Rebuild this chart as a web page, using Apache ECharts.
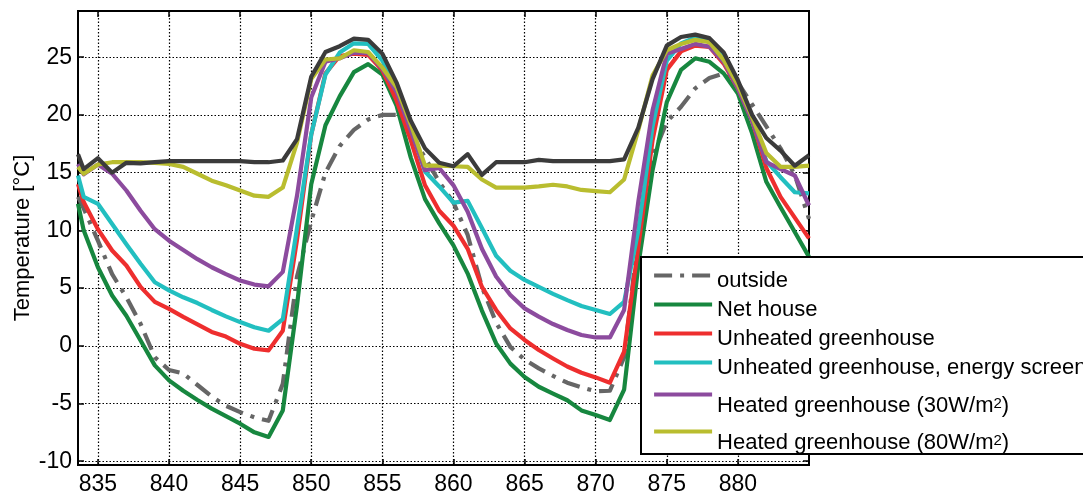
<!DOCTYPE html>
<html><head><meta charset="utf-8">
<script src="https://cdn.jsdelivr.net/npm/echarts@6/dist/echarts.min.js"></script>
<style>html,body{margin:0;padding:0;background:#fff}#c{width:1083px;height:497px}</style>
</head><body><div id="c"></div>
<script>
const hours = [833.6,834,835,836,837,838,839,840,841,842,843,844,845,846,847,848,849,850,851,852,853,854,855,856,857,858,859,860,861,862,863,864,865,866,867,868,869,870,871,872,873,874,875,876,877,878,879,880,881,882,883,884,885];
const outside = [12.9,11.9,9.1,6.2,4.2,1.9,-1.0,-2.1,-2.4,-3.4,-4.4,-5.2,-5.75,-6.2,-6.5,-3.3,6.0,10.8,15.0,17.3,18.7,19.6,20.0,20.0,18.4,16.3,14.2,12.4,9.6,5.1,2.0,-0.1,-1.2,-1.96,-2.6,-3.2,-3.6,-3.95,-3.9,-1.0,9.5,16.4,19.4,20.7,22.3,23.2,23.6,22.8,20.9,19.0,17.1,14.8,11.0];
const netHouse = [12.3,10.0,6.8,4.35,2.6,0.46,-1.7,-3.0,-3.9,-4.7,-5.45,-6.1,-6.75,-7.5,-7.9,-5.6,3.5,14.0,19.1,21.6,23.7,24.4,23.5,20.8,16.3,12.7,10.6,8.7,6.25,3.05,0.2,-1.55,-2.7,-3.55,-4.14,-4.72,-5.6,-6.0,-6.43,-3.8,7.0,15.2,21.1,23.9,24.9,24.6,23.6,21.85,18.4,14.2,12.0,9.85,7.7];
const unheated = [14.0,12.45,10.1,8.25,6.95,5.1,3.8,3.2,2.5,1.85,1.2,0.8,0.17,-0.26,-0.4,1.3,9.2,18.3,23.6,25.1,25.3,25.2,23.85,21.25,17.8,13.9,11.7,10.4,8.4,5.1,3.1,1.5,0.5,-0.37,-1.1,-1.8,-2.34,-2.74,-3.2,-0.5,8.6,17.8,23.9,25.5,26.0,25.9,24.45,22.3,19.5,15.4,12.9,11.1,9.3];
const unheatedScreen = [14.75,12.9,12.3,10.55,8.8,7.1,5.5,4.8,4.2,3.7,3.1,2.55,2.05,1.6,1.3,2.3,10.2,18.3,23.5,25.4,26.2,26.15,24.7,22.25,18.9,15.1,13.8,12.4,12.55,10.2,7.8,6.5,5.7,5.1,4.5,3.95,3.44,3.1,2.75,3.8,10.0,19.0,24.7,26.2,26.7,26.5,24.9,22.4,19.7,16.0,14.6,13.3,13.2];
const heated30 = [15.75,14.85,15.7,14.9,13.45,11.7,10.1,9.1,8.3,7.5,6.8,6.2,5.65,5.3,5.15,6.4,13.0,21.5,24.6,24.9,25.4,25.35,24.0,22.0,18.65,15.2,15.4,13.9,11.6,8.4,6.0,4.4,3.24,2.52,1.88,1.36,0.93,0.72,0.72,3.1,12.5,20.4,25.3,25.7,26.15,25.9,24.6,22.3,19.5,15.9,15.3,14.75,12.15];
const heated80 = [15.5,14.9,15.7,15.9,15.9,15.9,15.85,15.75,15.5,14.9,14.3,13.9,13.45,13.0,12.9,13.7,17.6,23.1,24.8,24.9,25.6,25.45,24.1,22.4,19.2,15.6,15.6,15.55,15.5,14.4,13.7,13.7,13.7,13.8,13.95,13.8,13.5,13.4,13.3,14.4,18.7,23.4,25.6,26.15,26.5,26.3,24.75,22.6,19.8,16.7,15.5,15.5,15.6];
const heatedBlack = [16.6,15.3,16.25,15.0,15.85,15.8,15.9,16.0,16.0,16.0,16.0,16.0,16.0,15.9,15.9,16.05,17.9,23.3,25.45,25.95,26.6,26.5,25.3,22.8,19.5,17.1,15.85,15.55,16.6,14.8,15.9,15.9,15.9,16.1,16.0,16.0,16.0,16.0,16.0,16.15,18.9,23.1,26.0,26.75,26.95,26.65,25.4,23.0,20.0,18.0,16.9,15.6,16.5];
const xTicks = [835,840,845,850,855,860,865,870,875,880];
const yTicks = [-10,-5,0,5,10,15,20,25];
const seriesNames = ['outside','Net house','Unheated greenhouse','Unheated greenhouse, energy screen','Heated greenhouse (30W/m2)','Heated greenhouse (80W/m2)','Heated greenhouse (black)'];
const legendNames = seriesNames.slice(0, 6);

const FONT = '"Liberation Sans", Arial, Helvetica, sans-serif';
const colors = ['#666666','#17873f','#ee2e2e','#22bfc0','#8c4b9e','#b9bd2f','#3b3b3b'];
const seriesData = [outside, netHouse, unheated, unheatedScreen, heated30, heated80, heatedBlack];

const chart = echarts.init(document.getElementById('c'), null, {renderer: 'canvas'});

const series = seriesData.map((arr, k) => ({
  name: seriesNames[k],
  type: 'line',
  data: hours.map((h, i) => [h, arr[i]]),
  symbol: 'none',
  showSymbol: false,
  clip: true,
  z: 2 + k * 0.01,
  lineStyle: {color: colors[k], width: 4.2, type: k === 0 ? [18, 8, 4, 8] : 'solid', cap: 'butt', join: 'round'},
  itemStyle: {color: colors[k]}
}));

const padPlain = [14, 0, 3, 0];
const legendData = legendNames.map((n, k) => ({
  name: n,
  textStyle: {padding: k === 4 ? [23, 0, 0, 0] : (k === 5 ? [24, 0, 1, 0] : padPlain)}
}));

const axisCommonX = {type: 'value', min: 833.6, max: 885};
const axisCommonY = {type: 'value', min: -10.33, max: 29};
const gridLine = {show: true, lineStyle: {color: '#000', width: 1.2, type: [1.5, 2]}};

chart.setOption({
  animation: false,
  backgroundColor: '#fff',
  grid: {left: 78, right: 274, top: 11, bottom: 32, show: true, borderColor: '#000', borderWidth: 2, backgroundColor: 'transparent'},
  xAxis: [
    Object.assign({}, axisCommonX, {
      position: 'bottom',
      axisLine: {show: true, onZero: false, lineStyle: {color: '#000', width: 2}},
      axisTick: {show: true, inside: true, length: 6, customValues: xTicks, lineStyle: {color: '#000', width: 1.5}},
      axisLabel: {show: true, customValues: xTicks, color: '#000', fontSize: 23, fontFamily: FONT, margin: 8},
      splitLine: gridLine
    }),
    Object.assign({}, axisCommonX, {
      position: 'top',
      axisLine: {show: true, onZero: false, lineStyle: {color: '#000', width: 2}},
      axisTick: {show: true, inside: true, length: 6, customValues: xTicks, lineStyle: {color: '#000', width: 1.5}},
      axisLabel: {show: false},
      splitLine: {show: false}
    })
  ],
  yAxis: [
    Object.assign({}, axisCommonY, {
      position: 'left',
      name: 'Temperature [°C]',
      nameLocation: 'middle',
      nameGap: 44,
      nameMoveOverlap: false,
      nameTextStyle: {color: '#000', fontSize: 22, fontFamily: FONT},
      axisLine: {show: true, onZero: false, lineStyle: {color: '#000', width: 2}},
      axisTick: {show: true, inside: true, length: 6, customValues: yTicks, lineStyle: {color: '#000', width: 1.5}},
      axisLabel: {show: true, customValues: yTicks, color: '#000', fontSize: 23, fontFamily: FONT, margin: 6},
      splitLine: gridLine
    }),
    Object.assign({}, axisCommonY, {
      position: 'right',
      axisLine: {show: true, onZero: false, lineStyle: {color: '#000', width: 2}},
      axisTick: {show: true, inside: true, length: 6, customValues: yTicks, lineStyle: {color: '#000', width: 1.5}},
      axisLabel: {show: false},
      splitLine: {show: false}
    })
  ],
  legend: {
    orient: 'vertical',
    left: 641,
    top: 257,
    backgroundColor: '#fff',
    borderColor: '#000',
    borderWidth: 2,
    borderRadius: 0,
    padding: [0, 30, 0, 11],
    itemGap: -8,
    itemWidth: 58,
    itemHeight: 14,
    selectedMode: false,
    itemStyle: {color: 'transparent', borderColor: 'transparent', borderWidth: 0, opacity: 0},
    lineStyle: {width: 4.2},
    data: legendData,
    formatter: function (name) { return name.replace('m2)', 'm{sup|2})'); },
    textStyle: {
      color: '#000', fontSize: 22, fontFamily: FONT, lineHeight: 20,
      rich: {sup: {color: '#000', fontSize: 15, fontFamily: FONT, lineHeight: 9, verticalAlign: 'top'}}
    }
  },
  series: series
});
</script>
</body></html>
